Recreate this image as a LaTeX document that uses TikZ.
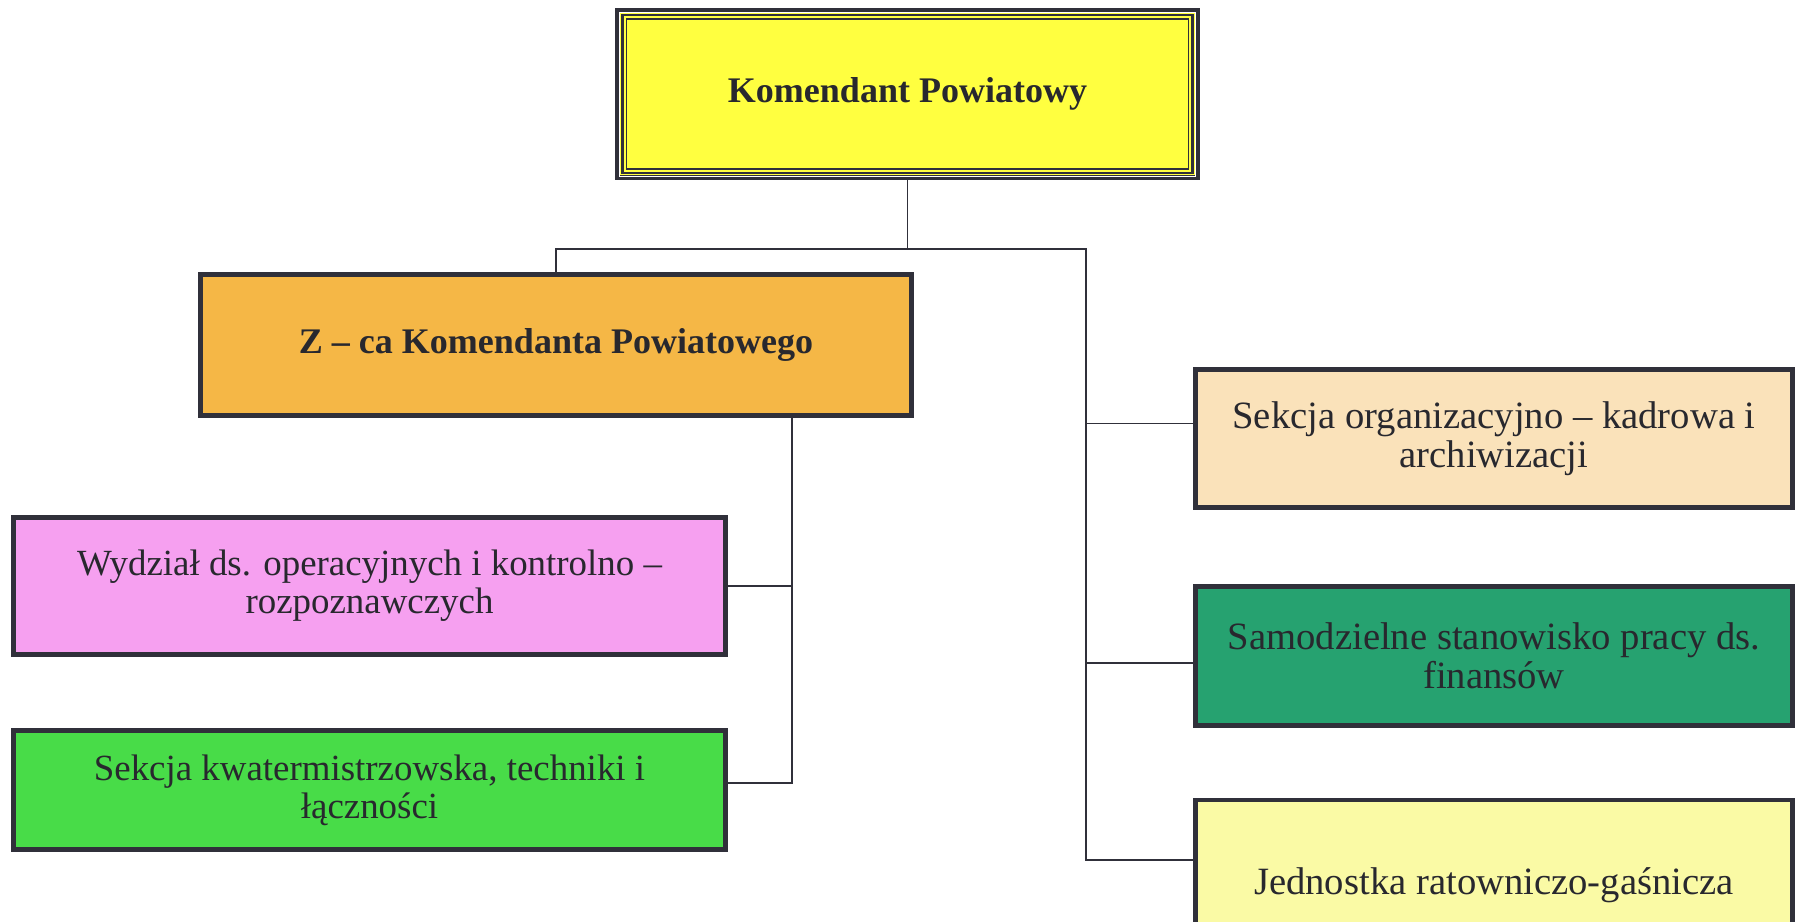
\documentclass[tikz,border=0pt]{standalone}
\usepackage{fontspec}
\setmainfont{Liberation Serif}
\usepackage{tikz}

\definecolor{ramka}{RGB}{48,48,58}
\definecolor{napis}{RGB}{40,40,46}
\definecolor{kpcol}{RGB}{255,255,64}
\definecolor{zkpcol}{RGB}{245,183,70}
\definecolor{wocol}{RGB}{246,160,240}
\definecolor{skcol}{RGB}{72,220,72}
\definecolor{socol}{RGB}{250,226,186}
\definecolor{sfcol}{RGB}{38,162,112}
\definecolor{jrgcol}{RGB}{250,250,165}

\begin{document}
\begin{tikzpicture}[x=0.02cm, y=-0.02cm,
  box/.style={draw=ramka, line width=2.6pt, align=center, text=napis, inner sep=0pt,
    font=\fontsize{21}{21.5}\selectfont},
  rbox/.style={box, minimum width=11.95cm, font=\fontsize{22}{22}\selectfont},
  conn/.style={draw=ramka, line width=1pt}]
\clip (0,0) rectangle (1798,922);
\fill[white] (0,0) rectangle (1798,922);

\node[box, fill=kpcol, minimum width=11.6cm, minimum height=3.35cm,
  font=\fontsize{20.5}{21.5}\selectfont\bfseries] (kp) at (907.5,94) {Komendant Powiatowy};
\draw[white, line width=0.5pt] ([shift={(0.08cm,-0.08cm)}]kp.north west) rectangle ([shift={(-0.08cm,0.08cm)}]kp.south east);
\draw[ramka, line width=1.6pt] ([shift={(0.14cm,-0.14cm)}]kp.north west) rectangle ([shift={(-0.14cm,0.14cm)}]kp.south east);
\draw[ramka, line width=0.8pt] ([shift={(0.22cm,-0.22cm)}]kp.north west) rectangle ([shift={(-0.22cm,0.22cm)}]kp.south east);

\node[box, fill=zkpcol, minimum width=14.23cm, minimum height=2.83cm,
  font=\fontsize{20.5}{21.5}\selectfont\bfseries] (zkp) at (556,345) {Z -- ca Komendanta Powiatowego};
\node[box, fill=wocol, minimum width=14.25cm, minimum height=2.75cm] (wo) at (369.5,586)
  {Wydział ds. operacyjnych i kontrolno --\\rozpoznawczych};
\node[box, fill=skcol, minimum width=14.25cm, minimum height=2.39cm] (sk) at (369.5,790)
  {Sekcja kwatermistrzowska, techniki i\\łączności};
\node[rbox, fill=socol, minimum height=2.77cm] (so) at (1494,438.5)
  {Sekcja organizacyjno -- kadrowa i\\archiwizacji};
\node[rbox, fill=sfcol, minimum height=2.79cm] (sf) at (1494,656)
  {Samodzielne stanowisko pracy ds.\\finansów};
\node[rbox, fill=jrgcol, minimum height=3.4cm] (jrg) at (1494,885)
  {Jednostka ratowniczo-gaśnicza};

% connectors
\coordinate (bus) at (907.5,249);
\coordinate (rs) at (1086,249);
\coordinate (zs) at ([xshift=4.72cm]zkp.south);
\path ([yshift=0.3cm]so.west) coordinate (so-w)
      ([yshift=-0.14cm]sf.west) coordinate (sf-w)
      ([yshift=0.5cm]jrg.west) coordinate (jrg-w)
      ([yshift=0.14cm]sk.east) coordinate (sk-e);
\draw[conn] (kp.south) -- (bus);
\draw[conn] (zkp.north) |- (rs) |- (jrg-w);
\foreach \to in {so-w,sf-w}
\draw[conn] (rs |- \to) -- (\to);
\draw[conn] (zs) |- (sk-e);
\draw[conn] (zs |- wo.east) -- (wo.east);
\end{tikzpicture}
\end{document}
